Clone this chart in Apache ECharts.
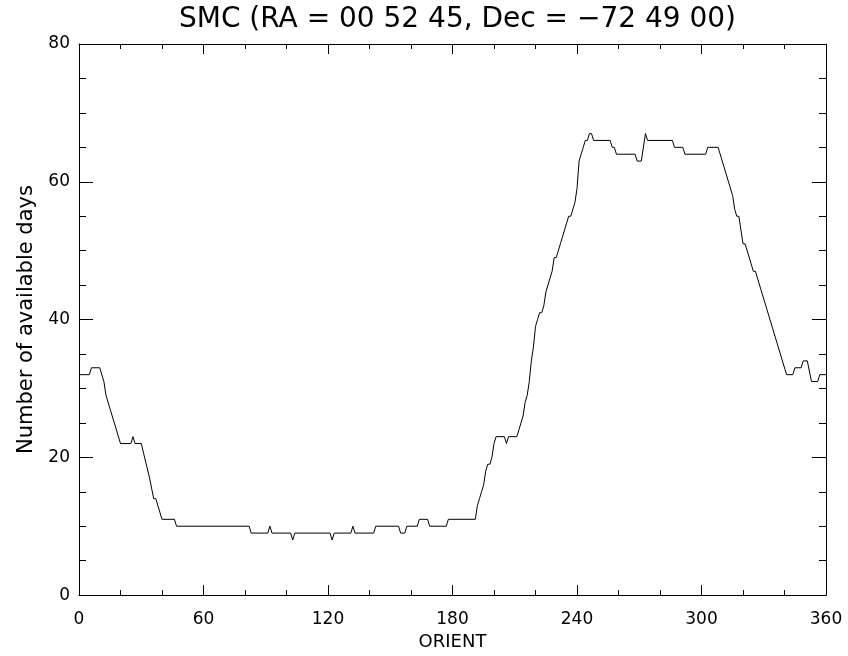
<!DOCTYPE html>
<html>
<head>
<meta charset="utf-8">
<title>SMC available days vs ORIENT</title>
<script src="https://cdn.jsdelivr.net/npm/echarts@6/dist/echarts.min.js"></script>
<style>
  html, body { margin: 0; padding: 0; background: #ffffff; }
  #chart { width: 848px; height: 656px; }
</style>
</head>
<body>
<div id="chart"></div>
<script>
// Breakpoints of the visibility curve: ORIENT (deg) and number of available days
const orient = [
  0, 5, 6, 10, 12, 13, 15, 20, 25, 26, 27, 30, 34, 36, 37, 40, 46, 47,
  82, 83, 91, 92, 93, 102, 103, 104, 121, 122, 123, 131, 132, 133, 142, 143,
  154, 155, 157, 158, 163, 164, 168, 169, 177, 178, 191, 192, 193, 194, 195,
  196, 197, 198, 199, 200, 201, 205, 206, 207, 211, 212, 213, 214, 215, 216,
  217, 218, 219, 220, 221, 222, 223, 224, 225, 226, 227, 228, 229, 230, 232,
  233, 234, 235, 236, 237, 239, 240, 241, 242, 243, 244, 245, 246, 247, 248,
  256, 257, 258, 259, 268, 269, 271, 273, 274, 286, 287, 291, 292, 302, 303,
  308, 312, 315, 316, 317, 318, 320, 321, 325, 326, 341, 344, 345, 348, 349,
  351, 353, 356, 357, 360
];
const days = [
  32, 32, 33, 33, 31, 29, 27, 22, 22, 23, 22, 22, 17, 14, 14, 11, 11, 10,
  10, 9, 9, 10, 9, 9, 8, 9, 9, 8, 9, 9, 10, 9, 9, 10,
  10, 9, 9, 10, 10, 11, 11, 10, 10, 11, 11, 13, 14, 15, 16,
  18, 19, 19, 20, 22, 23, 23, 22, 23, 23, 24, 25, 26, 28, 29,
  31, 34, 36, 39, 40, 41, 41, 42, 44, 45, 46, 47, 49, 49, 51,
  52, 53, 54, 55, 55, 57, 59, 63, 64, 65, 66, 66, 67, 67, 66,
  66, 65, 65, 64, 64, 63, 63, 67, 66, 66, 65, 65, 64, 64, 65,
  65, 61, 58, 56, 55, 55, 51, 51, 47, 47, 32, 32, 33, 33, 34,
  34, 31, 31, 32, 32
];

// Axis ranges and tick spacing
const xRange = [0, 360];
const xStep = 60;
const yRange = [0, 80];
const yStep = 20;

const titleText = 'SMC (RA = 00 52 45, Dec = \u221272 49 00)';
const xName = 'ORIENT';
const yName = 'Number of available days';

const FONT = 'DejaVu Sans';
const INK = '#000000';

// Plot box in pixels
const GRID = { left: 79, right: 22, top: 44, bottom: 60 };
const plotCenterX = GRID.left + (848 - GRID.left - GRID.right) / 2;

const points = orient.map((o, i) => [o, days[i]]);

function xAxisDef(pos, showLabels) {
  return {
    type: 'value',
    position: pos,
    min: xRange[0], max: xRange[1], interval: xStep,
    name: showLabels ? xName : '',
    nameLocation: 'middle',
    nameGap: 37,
    nameTextStyle: { fontFamily: FONT, fontSize: 18, color: INK },
    axisLine: { show: true, onZero: false, lineStyle: { color: INK, width: 1 } },
    axisTick: { show: true, inside: true, length: 10, lineStyle: { color: INK, width: 1 } },
    minorTick: { show: true, splitNumber: 3, length: 5, lineStyle: { color: INK, width: 1 } },
    axisLabel: { show: showLabels, margin: 16, fontFamily: FONT, fontSize: 17, color: INK },
    splitLine: { show: false },
    minorSplitLine: { show: false }
  };
}

function yAxisDef(pos, showLabels) {
  return {
    type: 'value',
    position: pos,
    min: yRange[0], max: yRange[1], interval: yStep,
    name: showLabels ? yName : '',
    nameLocation: 'middle',
    nameRotate: 90,
    nameGap: 42,
    nameTextStyle: { fontFamily: FONT, fontSize: 21, color: INK },
    axisLine: { show: true, onZero: false, lineStyle: { color: INK, width: 1 } },
    axisTick: { show: true, inside: true, length: 14, lineStyle: { color: INK, width: 1 } },
    minorTick: { show: true, splitNumber: 4, length: 7, lineStyle: { color: INK, width: 1 } },
    axisLabel: { show: showLabels, margin: 9, fontFamily: FONT, fontSize: 17, color: INK },
    splitLine: { show: false },
    minorSplitLine: { show: false }
  };
}

const chart = echarts.init(document.getElementById('chart'), null, { renderer: 'canvas' });
chart.setOption({
  animation: false,
  backgroundColor: '#ffffff',
  title: {
    text: titleText,
    left: plotCenterX,
    textAlign: 'center',
    top: 1,
    textStyle: { fontFamily: FONT, fontSize: 28, fontWeight: 'normal', color: INK }
  },
  grid: { left: GRID.left, right: GRID.right, top: GRID.top, bottom: GRID.bottom, containLabel: false },
  xAxis: [xAxisDef('bottom', true), xAxisDef('top', false)],
  yAxis: [yAxisDef('left', true), yAxisDef('right', false)],
  series: [{
    type: 'line',
    data: points,
    xAxisIndex: 0,
    yAxisIndex: 0,
    showSymbol: false,
    symbol: 'none',
    lineStyle: { color: INK, width: 1 },
    silent: true
  }]
});
</script>
</body>
</html>
